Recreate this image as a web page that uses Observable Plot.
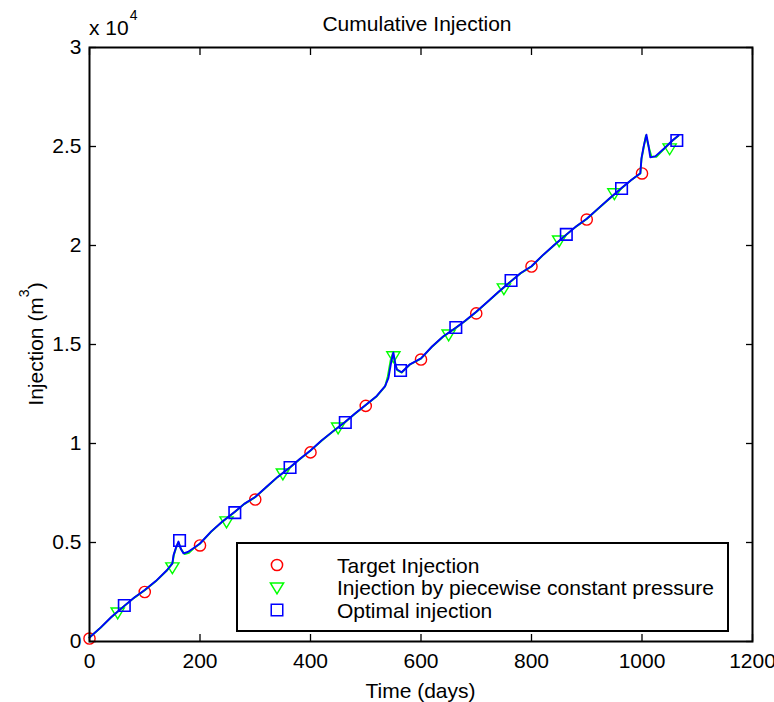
<!DOCTYPE html>
<html>
<head>
<meta charset="utf-8">
<script src="https://cdn.jsdelivr.net/npm/d3@7"></script>
<script src="https://cdn.jsdelivr.net/npm/@observablehq/plot@0.6"></script>
<style>
  html, body { margin: 0; padding: 0; background: #fff; }
  #chart svg { display: block; }
</style>
</head>
<body>
<div id="chart"></div>
<script>
// ---- Data ----
const titleText = "Cumulative Injection";
const xLabelText = "Time (days)";
const xTicks = [0, 200, 400, 600, 800, 1000, 1200];
const xTickLabels = ["0", "200", "400", "600", "800", "1000", "1200"];
const yTicks = [0, 5000, 10000, 15000, 20000, 25000, 30000];
const yTickLabels = ["0", "0.5", "1", "1.5", "2", "2.5", "3"];
const seriesNames = ["Target Injection", "Injection by piecewise constant pressure", "Optimal injection"];

// Target injection (red circles)
const targetDays   = [0, 100, 200, 300, 400, 500, 600, 700, 800, 900, 1000];
const targetValues = [150, 2500, 4850, 7170, 9550, 11900, 14240, 16570, 18940, 21310, 23640];

// Piecewise constant pressure (green triangles markers)
const pressureMarkerDays   = [51, 150, 248, 350, 450, 550, 650, 750, 850, 950, 1050];
const pressureMarkerValues = [1460, 3740, 6060, 8480, 10800, 14400, 15500, 17830, 20250, 22630, 24900];

// Optimal injection (blue squares markers)
const optimalMarkerDays   = [63, 163, 263, 363, 463, 563, 663, 763, 863, 963, 1063];
const optimalMarkerValues = [1820, 5100, 6510, 8790, 11060, 13690, 15860, 18230, 20560, 22880, 25300];

// Optimal injection line (blue)
const optimalLineDays = [0, 20, 40, 63, 80, 100, 120, 140, 150, 152, 156, 161, 165, 170, 178, 190, 200, 220, 240, 263, 280, 300, 320, 340, 363, 380, 400, 420, 440, 463, 480, 500, 520, 535, 541, 546, 550, 553, 556, 565, 580, 600, 620, 640, 663, 680, 700, 720, 740, 763, 780, 800, 820, 840, 863, 880, 900, 920, 940, 963, 980, 997, 999, 1003, 1008, 1012, 1015, 1024, 1040, 1055, 1066];
const optimalLineValues = [200, 700, 1250, 1800, 2200, 2600, 3050, 3600, 3950, 4350, 4700, 5050, 4700, 4450, 4520, 4750, 4950, 5550, 6050, 6550, 6950, 7300, 7800, 8300, 8800, 9200, 9650, 10150, 10600, 11100, 11500, 11950, 12400, 12900, 13300, 14100, 14600, 14100, 13750, 13600, 14000, 14300, 14900, 15400, 15850, 16200, 16650, 17150, 17650, 18200, 18600, 18950, 19500, 20000, 20550, 20950, 21350, 21850, 22350, 22900, 23300, 23650, 24400, 25000, 25600, 25000, 24450, 24500, 24900, 25300, 25550];

// Piecewise constant pressure line (green)
const pressureLineDays = [0, 20, 40, 63, 80, 100, 120, 140, 150, 153, 157, 161, 166, 172, 180, 190, 200, 220, 240, 263, 280, 300, 320, 340, 363, 380, 400, 420, 440, 463, 480, 500, 520, 535, 540, 545, 549, 553, 557, 565, 580, 600, 620, 640, 663, 680, 700, 720, 740, 763, 780, 800, 820, 840, 863, 880, 900, 920, 940, 963, 980, 997, 999, 1003, 1007, 1012, 1017, 1026, 1040, 1055, 1066];
const pressureLineValues = [200, 690, 1240, 1790, 2190, 2590, 3040, 3580, 3930, 4400, 4750, 5000, 4650, 4420, 4480, 4740, 4940, 5540, 6040, 6540, 6940, 7290, 7790, 8290, 8790, 9190, 9640, 10140, 10590, 11090, 11490, 11940, 12390, 12880, 13400, 14200, 14550, 14050, 13700, 13580, 13990, 14290, 14890, 15390, 15840, 16190, 16640, 17140, 17640, 18190, 18590, 18940, 19490, 19990, 20540, 20940, 21340, 21840, 22340, 22890, 23290, 23640, 24350, 24950, 25550, 25000, 24500, 24480, 24880, 25290, 25540];

const toRows = (xs, ys) => xs.map((d, i) => ({day: d, value: ys[i]}));
const targetRows = toRows(targetDays, targetValues);
const pressureMarkers = toRows(pressureMarkerDays, pressureMarkerValues);
const optimalMarkers = toRows(optimalMarkerDays, optimalMarkerValues);
const optimalLine = toRows(optimalLineDays, optimalLineValues);
const pressureLine = toRows(pressureLineDays, pressureLineValues);

// ---- Styles ----
const FONT = "'Liberation Sans', Arial, Helvetica, sans-serif";
const FS = 21;
const RED = "#ff0000", GREEN = "#00ff00", BLUE = "#0000ff";
const R_CIRCLE = 5.6, R_TRI = 6.6, R_SQUARE = 6.5;

const triangleDown = {
  draw(ctx, size) {
    const r = Math.sqrt(size / Math.PI);
    ctx.moveTo(-r, -0.7 * r);
    ctx.lineTo(r, -0.7 * r);
    ctx.lineTo(0, 0.95 * r);
    ctx.closePath();
  }
};

const W = 774, H = 702;
const M = {left: 89, right: 22, top: 47, bottom: 61};

const chart = Plot.plot({
  width: W, height: H,
  marginLeft: M.left, marginRight: M.right, marginTop: M.top, marginBottom: M.bottom,
  x: {domain: [0, 1200]},
  y: {domain: [0, 30000]},
  style: {fontFamily: FONT, fontSize: FS + "px", background: "#fff", color: "#000", overflow: "visible"},
  marks: [
    // inward ticks on all four sides
    Plot.axisX({ticks: xTicks, anchor: "bottom", tickSize: -7, tickFormat: () => "", label: null, strokeWidth: 1.3}),
    Plot.axisX({ticks: xTicks, anchor: "top", tickSize: -7, tickFormat: () => "", label: null, strokeWidth: 1.3}),
    Plot.axisY({ticks: yTicks, anchor: "left", tickSize: -7, tickFormat: () => "", label: null, strokeWidth: 1.3}),
    Plot.axisY({ticks: yTicks, anchor: "right", tickSize: -7, tickFormat: () => "", label: null, strokeWidth: 1.3}),
    // tick labels
    Plot.axisX({ticks: xTicks, anchor: "bottom", tickSize: 0, tickPadding: 12, label: null,
      tickFormat: d => xTickLabels[xTicks.indexOf(d)], fill: "#000", fontSize: FS}),
    Plot.axisY({ticks: yTicks, anchor: "left", tickSize: 0, tickPadding: 8, label: null,
      tickFormat: d => yTickLabels[yTicks.indexOf(d)], fill: "#000", fontSize: FS}),
    // series
    Plot.dot(targetRows, {x: "day", y: "value", r: R_CIRCLE, stroke: RED, strokeWidth: 1.4, fill: "none"}),
    Plot.line(pressureLine, {x: "day", y: "value", stroke: GREEN, strokeWidth: 1.9}),
    Plot.dot(pressureMarkers, {x: "day", y: "value", symbol: triangleDown, r: R_TRI, stroke: GREEN, strokeWidth: 1.4, fill: "none"}),
    Plot.line(optimalLine, {x: "day", y: "value", stroke: BLUE, strokeWidth: 1.9}),
    Plot.dot(optimalMarkers, {x: "day", y: "value", symbol: "square", r: R_SQUARE, stroke: BLUE, strokeWidth: 1.6, fill: "none"}),
    Plot.frame({stroke: "#000", strokeWidth: 2})
  ]
});

document.getElementById("chart").appendChild(chart);

// ---- Annotations: title, axis labels, exponent, legend ----
const svg = d3.select(chart);
const cx = (M.left + (W - M.right)) / 2;
const g = svg.append("g").attr("font-family", FONT).attr("fill", "#000");

g.append("text").attr("x", 417).attr("y", 31).attr("text-anchor", "middle")
  .attr("font-size", FS).text(titleText);

g.append("text").attr("x", cx).attr("y", 698).attr("text-anchor", "middle")
  .attr("font-size", FS).text(xLabelText);

// y label with superscript
const yl = g.append("text").attr("transform", `translate(43, ${(M.top + H - M.bottom) / 2}) rotate(-90)`)
  .attr("text-anchor", "middle").attr("font-size", FS);
yl.append("tspan").text("Injection (m");
yl.append("tspan").attr("font-size", 14).attr("dy", -14).text("3");
yl.append("tspan").attr("dy", 14).text(")");

// exponent "x 10^4"
const ex = g.append("text").attr("x", 89).attr("y", 35).attr("font-size", FS).attr("text-anchor", "start");
ex.append("tspan").text("x 10");
ex.append("tspan").attr("font-size", 14).attr("dy", -15).attr("dx", 1).text("4");

// legend
const leg = svg.append("g").attr("font-family", FONT).attr("text-anchor", "start");
const box = {x: 237, y: 543, w: 491, h: 88};
leg.append("rect").attr("x", box.x).attr("y", box.y).attr("width", box.w).attr("height", box.h)
  .attr("fill", "#fff").attr("stroke", "#000").attr("stroke-width", 2);
const rowsY = [565, 587.5, 610];
const markerX = 277, textX = 337;
const sym = [
  d3.symbol(d3.symbolCircle, R_CIRCLE * R_CIRCLE * Math.PI),
  d3.symbol(triangleDown, R_TRI * R_TRI * Math.PI),
  d3.symbol(d3.symbolSquare, R_SQUARE * R_SQUARE * Math.PI)
];
const cols = [RED, GREEN, BLUE];
seriesNames.forEach((name, i) => {
  leg.append("path").attr("d", sym[i]()).attr("transform", `translate(${markerX},${rowsY[i]})`)
    .attr("fill", "none").attr("stroke", cols[i]).attr("stroke-width", 1.5);
  leg.append("text").attr("x", textX).attr("y", rowsY[i] + 7.5).attr("font-size", FS)
    .attr("text-anchor", "start").attr("fill", "#000").text(name);
});
</script>
</body>
</html>
